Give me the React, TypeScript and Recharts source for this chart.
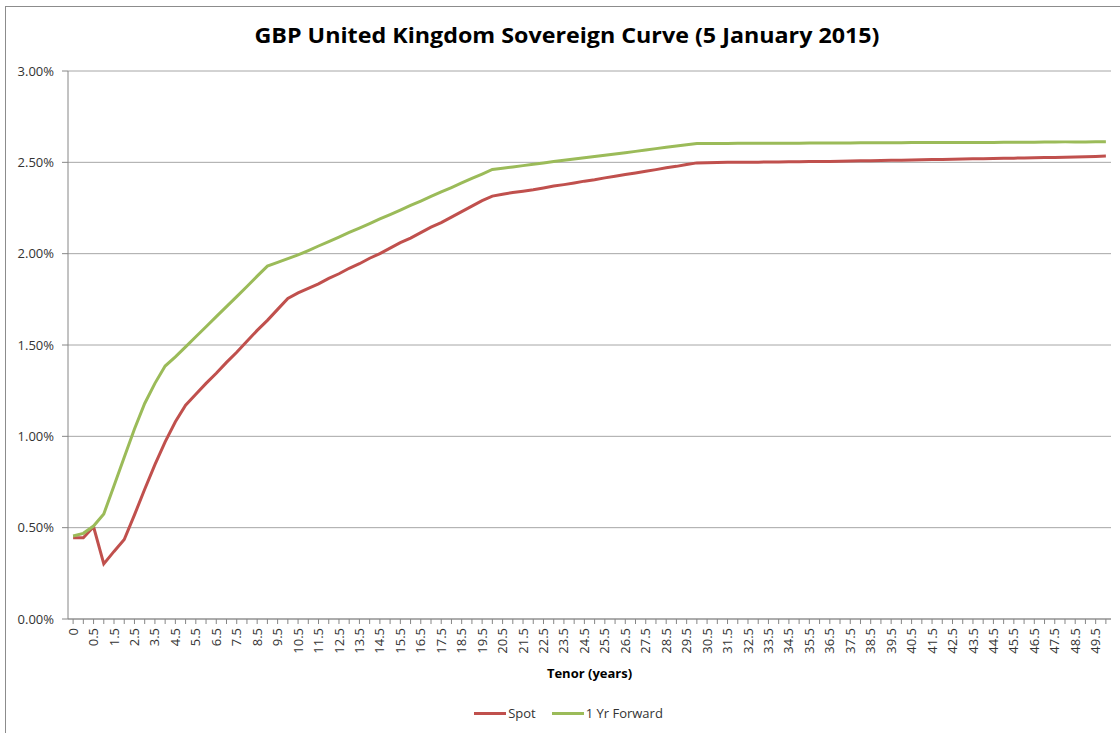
import React from "react";
import {
  LineChart,
  Line,
  XAxis,
  YAxis,
  CartesianGrid,
  Legend,
} from "recharts";

const FONT = "'Open Sans', 'Noto Sans', Arial, sans-serif";

const title = "GBP United Kingdom Sovereign Curve (5 January 2015)";
const xTitle = "Tenor (years)";

// tenor categories (years)
const tenors = [
  0, 0.25, 0.5, 1, 1.5, 2, 2.5, 3, 3.5, 4, 4.5, 5, 5.5, 6, 6.5, 7, 7.5, 8, 8.5,
  9, 9.5, 10, 10.5, 11, 11.5, 12, 12.5, 13, 13.5, 14, 14.5, 15, 15.5, 16, 16.5,
  17, 17.5, 18, 18.5, 19, 19.5, 20, 20.5, 21, 21.5, 22, 22.5, 23, 23.5, 24,
  24.5, 25, 25.5, 26, 26.5, 27, 27.5, 28, 28.5, 29, 29.5, 30, 30.5, 31, 31.5,
  32, 32.5, 33, 33.5, 34, 34.5, 35, 35.5, 36, 36.5, 37, 37.5, 38, 38.5, 39,
  39.5, 40, 40.5, 41, 41.5, 42, 42.5, 43, 43.5, 44, 44.5, 45, 45.5, 46, 46.5,
  47, 47.5, 48, 48.5, 49, 49.5, 50,
];

// spot rates (%)
const spot = [
  0.445, 0.445, 0.505, 0.302, 0.37, 0.435, 0.57, 0.71, 0.845, 0.97, 1.08,
  1.17, 1.23, 1.29, 1.345, 1.405, 1.46, 1.52, 1.58, 1.635, 1.695, 1.755, 1.785,
  1.81, 1.835, 1.865, 1.89, 1.92, 1.945, 1.975, 2.0, 2.03, 2.06, 2.085, 2.115,
  2.145, 2.17, 2.2, 2.23, 2.26, 2.29, 2.315, 2.325, 2.335, 2.342, 2.35, 2.36,
  2.37, 2.378, 2.387, 2.397, 2.405, 2.415, 2.424, 2.433, 2.442, 2.451, 2.46,
  2.47, 2.478, 2.488, 2.497, 2.498, 2.499, 2.5, 2.5, 2.501, 2.501, 2.502,
  2.502, 2.503, 2.503, 2.504, 2.504, 2.505, 2.506, 2.507, 2.508, 2.509, 2.51,
  2.511, 2.512, 2.513, 2.514, 2.515, 2.516, 2.517, 2.518, 2.519, 2.52, 2.521,
  2.522, 2.523, 2.524, 2.525, 2.526, 2.527, 2.528, 2.529, 2.53, 2.532, 2.534,
];

// 1 year forward rates (%)
const forward = [
  0.454, 0.469, 0.509, 0.575, 0.73, 0.885, 1.04, 1.18, 1.29, 1.385, 1.435,
  1.49, 1.545, 1.6, 1.655, 1.71, 1.765, 1.82, 1.877, 1.932, 1.952, 1.973,
  1.993, 2.017, 2.042, 2.066, 2.091, 2.116, 2.14, 2.165, 2.19, 2.214, 2.239,
  2.264, 2.288, 2.313, 2.338, 2.362, 2.387, 2.412, 2.436, 2.461, 2.468, 2.475,
  2.482, 2.489, 2.496, 2.504, 2.511, 2.518, 2.525, 2.532, 2.539, 2.546, 2.553,
  2.56, 2.567, 2.575, 2.582, 2.589, 2.596, 2.603, 2.603, 2.603, 2.603, 2.604,
  2.604, 2.604, 2.605, 2.605, 2.605, 2.605, 2.606, 2.606, 2.606, 2.606, 2.606,
  2.607, 2.607, 2.607, 2.607, 2.607, 2.608, 2.608, 2.608, 2.608, 2.609, 2.609,
  2.609, 2.609, 2.609, 2.61, 2.61, 2.61, 2.61, 2.611, 2.611, 2.612, 2.612,
  2.612, 2.613, 2.613,
];

const yTicks = [0, 0.5, 1, 1.5, 2, 2.5, 3];

const seriesNames = ["Spot", "1 Yr Forward"];
const seriesColors = ["#C0504D", "#9BBB59"];

const data = tenors.map((t, i) => ({
  idx: i,
  tenor: t,
  spot: spot[i],
  forward: forward[i],
}));

const xTicks = tenors.map((_, i) => i);

function TenorTick(props: any) {
  const { x, y, payload } = props;
  const i = payload.value;
  if (i % 2 !== 0) return <g />;
  return (
    <text
      transform={`translate(${x},${y}) rotate(-90)`}
      textAnchor="end"
      dy="0.35em"
      fontSize={13}
      fontFamily={FONT}
      fill="#333"
    >
      {String(tenors[i])}
    </text>
  );
}

function LegendContent() {
  return (
    <div
      style={{
        height: 40,
        display: "flex",
        alignItems: "center",
        justifyContent: "center",
        paddingLeft: 26,
        fontFamily: FONT,
        fontSize: 13,
        color: "#333",
      }}
    >
      {seriesNames.map((name, i) => (
        <div
          key={name}
          style={{ display: "flex", alignItems: "center", marginRight: i === 0 ? 16 : 0 }}
        >
          <div
            style={{
              width: 32,
              height: 3,
              background: seriesColors[i],
              marginRight: 2,
            }}
          />
          <span>{name}</span>
        </div>
      ))}
    </div>
  );
}

export default function App() {
  return (
    <div
      style={{
        position: "absolute",
        left: 0,
        top: 0,
        width: 1120,
        height: 733,
        overflow: "hidden",
        background: "#fff",
      }}
    >
      <div
        style={{
          position: "absolute",
          left: 5,
          top: 6,
          width: 1130,
          height: 740,
          border: "1px solid #8c8c8c",
        }}
      />
      <svg
        width={1120}
        height={70}
        style={{ position: "absolute", left: 0, top: 0 }}
      >
        <text
          x={567}
          y={43}
          textAnchor="middle"
          fontFamily={FONT}
          fontWeight="bold"
          fontSize={22}
          fill="#000"
          textLength={625}
          lengthAdjust="spacingAndGlyphs"
        >
          {title}
        </text>
      </svg>
      <div style={{ position: "absolute", left: 0, top: 0 }}>
        <LineChart
          width={1120}
          height={733}
          data={data}
          margin={{ top: 71, right: 9, left: 0, bottom: 0 }}
        >
          <CartesianGrid
            vertical={false}
            horizontal={true}
            stroke="#A6A6A6"
            strokeWidth={1}
          />
          <XAxis
            dataKey="idx"
            type="number"
            domain={[-0.5, 101.5]}
            ticks={xTicks}
            interval={0}
            height={74}
            tick={<TenorTick />}
            tickSize={5}
            tickMargin={4}
            tickLine={{ stroke: "#868686" }}
            axisLine={{ stroke: "#868686" }}
            label={{
              value: xTitle,
              position: "insideBottom",
              offset: 15,
              fontFamily: FONT,
              fontWeight: "bold",
              fontSize: 13,
              fill: "#000",
            }}
          />
          <YAxis
            type="number"
            domain={[0, 3]}
            ticks={yTicks}
            width={68}
            tickFormatter={(v: number) => v.toFixed(2) + "%"}
            tick={{ fontSize: 13, fill: "#333", fontFamily: FONT }}
            tickSize={6}
            tickMargin={8}
            tickLine={{ stroke: "#868686" }}
            axisLine={{ stroke: "#868686" }}
          />
          <Legend
            verticalAlign="bottom"
            height={40}
            content={<LegendContent />}
          />
          <Line
            type="linear"
            dataKey="spot"
            name={seriesNames[0]}
            stroke={seriesColors[0]}
            strokeWidth={3}
            dot={false}
            isAnimationActive={false}
          />
          <Line
            type="linear"
            dataKey="forward"
            name={seriesNames[1]}
            stroke={seriesColors[1]}
            strokeWidth={3}
            dot={false}
            isAnimationActive={false}
          />
        </LineChart>
      </div>
    </div>
  );
}
